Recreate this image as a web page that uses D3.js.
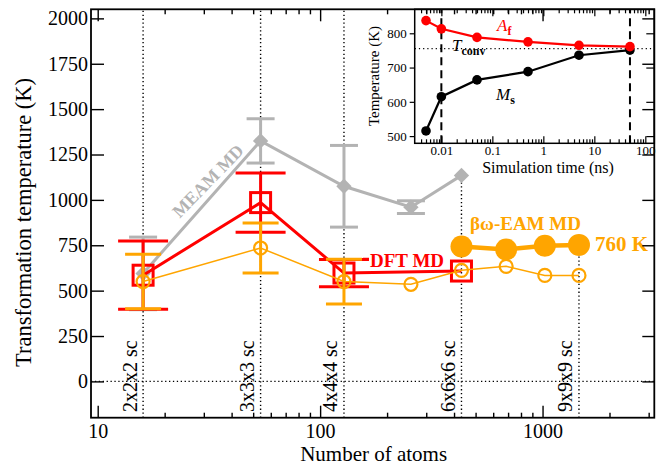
<!DOCTYPE html>
<html>
<head>
<meta charset="utf-8">
<script src="https://cdn.jsdelivr.net/npm/d3@7"></script>
<style>
  body { margin: 0; background: #fff; }
  svg { display: block; }
  svg text { font-family: "Liberation Serif", "Tinos", "DejaVu Serif", serif; }
</style>
</head>
<body>
<script>
// supercell sizes (atoms) and their labels
var cellAtoms = [16, 54, 128, 432, 1458];
var cellLabels = ["2x2x2 sc", "3x3x3 sc", "4x4x4 sc", "6x6x6 sc", "9x9x9 sc"];

// MEAM MD
var meamN = [16, 54, 128, 256, 432];
var meamT = [595, 1325, 1075, 960, 1135];
var meamErr = [200, 122, 225, 35, null];

// DFT MD
var dftN = [16, 54, 128, 432];
var dftT = [585, 985, 597, 608];
var dftErr = [188, 163, 75, null];

// beta-omega EAM MD, open circles
var eamN = [16, 54, 128, 256, 432, 686, 1024, 1458];
var eamT = [550, 735, 550, 535, 612, 634, 584, 584];
var eamErr = [150, 138, 123, null, null, null, null, null];

// beta-omega EAM MD, converged (filled)
var convN = [432, 686, 1024, 1458];
var convT = [743, 727, 747, 752];

var yTicks = [0, 250, 500, 750, 1000, 1250, 1500, 1750, 2000];
var xMajor = [10, 100, 1000];

// inset
var simTime = [0.005, 0.01, 0.05, 0.5, 5, 50];
var afT = [837, 813, 788, 775, 765, 761];
var msT = [515, 615, 664, 688, 736, 751];
var tConv = 755;
var markTimes = [0.01, 50];
var insetYTicks = [500, 600, 700, 800];
var insetXMajor = [0.01, 0.1, 1, 10, 100];

var W = 664, H = 466;
var gray = "#b3b3b3", red = "#ff0000", orange = "#ffa500";

var svg = d3.select("body").append("svg")
  .attr("width", W)
  .attr("height", H);

var x = d3.scaleLog().domain([9.33, 3180]).range([91, 654.3]);
var y = d3.scaleLinear().domain([-200, 2050]).range([417.7, 9.3]);

function minorTicks(scale) {
  var d = scale.domain(), out = [];
  for (var e = Math.floor(Math.log10(d[0])); e <= Math.ceil(Math.log10(d[1])); e++) {
    for (var k = 2; k <= 9; k++) {
      var v = k * Math.pow(10, e);
      if (v > d[0] && v < d[1]) out.push(v);
    }
  }
  return out;
}

// dotted guide lines
var guides = svg.append("g").attr("stroke", "#000").attr("stroke-width", 1.4)
  .attr("stroke-dasharray", "1.3,2.6").attr("fill", "none");
guides.append("line")
  .attr("x1", x.range()[0]).attr("x2", x.range()[1])
  .attr("y1", y(0)).attr("y2", y(0));
guides.selectAll("line.v").data(cellAtoms).enter().append("line")
  .attr("class", "v")
  .attr("x1", function(d) { return x(d); }).attr("x2", function(d) { return x(d); })
  .attr("y1", y.range()[0])
  .attr("y2", function(d, i) { return i == cellAtoms.length - 1 ? y(convT[convT.length - 1]) : y.range()[1]; });

svg.append("g").selectAll("text").data(cellAtoms).enter().append("text")
  .attr("transform", function(d) { return "translate(" + (x(d) - 6.5) + ",412) rotate(-90)"; })
  .attr("font-size", 20)
  .text(function(d, i) { return cellLabels[i]; });

// ---------- inset ----------
var ix = d3.scaleLog().domain([0.003, 150]).range([414.7, 654.3]);
var iy = d3.scaleLinear().domain([479, 870]).range([143.3, 9.3]);

var inset = svg.append("g");
inset.append("rect")
  .attr("x", 362).attr("y", 9.3).attr("width", 654.3 - 362).attr("height", 168)
  .attr("fill", "#fff");

inset.append("line")
  .attr("x1", ix.range()[0]).attr("x2", ix.range()[1])
  .attr("y1", iy(tConv)).attr("y2", iy(tConv))
  .attr("stroke", "#000").attr("stroke-width", 1.2).attr("stroke-dasharray", "1.2,3");

inset.selectAll("line.mark").data(markTimes).enter().append("line")
  .attr("x1", function(d) { return ix(d); }).attr("x2", function(d) { return ix(d); })
  .attr("y1", iy.range()[0]).attr("y2", iy.range()[1])
  .attr("stroke", "#000").attr("stroke-width", 2).attr("stroke-dasharray", "8,5");

var iline = d3.line()
  .x(function(d) { return ix(d[0]); })
  .y(function(d) { return iy(d[1]); });

[[msT, "#000"], [afT, red]].forEach(function(s) {
  var pts = simTime.map(function(t, i) { return [t, s[0][i]]; });
  inset.append("path").datum(pts)
    .attr("d", iline).attr("fill", "none")
    .attr("stroke", s[1]).attr("stroke-width", 2.2);
  inset.selectAll(null).data(pts).enter().append("circle")
    .attr("cx", function(d) { return ix(d[0]); })
    .attr("cy", function(d) { return iy(d[1]); })
    .attr("r", 4.8).attr("fill", s[1]);
});

function insetAxis(axis, tx, ty, labels) {
  var g = inset.append("g").attr("transform", "translate(" + tx + "," + ty + ")").call(axis);
  g.select(".domain").remove();
  g.attr("font-family", null);
  g.selectAll("line").attr("stroke-width", 1.2);
  g.selectAll("text").attr("font-size", 13);
  if (!labels) g.selectAll("text").remove();
  return g;
}
var ixMinor = minorTicks(ix);
insetAxis(d3.axisBottom(ix).tickValues(insetXMajor).tickSize(-7).tickPadding(2)
  .tickFormat(function(d) { return String(d); }), 0, 143.3, true);
insetAxis(d3.axisBottom(ix).tickValues(ixMinor).tickSize(-4), 0, 143.3, false);
insetAxis(d3.axisTop(ix).tickValues(insetXMajor.filter(function(d) { return d < 150; })).tickSize(-7), 0, 9.3, false);
insetAxis(d3.axisTop(ix).tickValues(ixMinor).tickSize(-4), 0, 9.3, false);
insetAxis(d3.axisLeft(iy).tickValues(insetYTicks).tickSize(5).tickPadding(3), 414.7, 0, true);
insetAxis(d3.axisRight(iy).tickValues(insetYTicks).tickSize(-8), 654.3, 0, false);

inset.append("rect")
  .attr("x", 414.7).attr("y", 9.3).attr("width", 654.3 - 414.7).attr("height", 143.3 - 9.3)
  .attr("fill", "none").attr("stroke", "#000").attr("stroke-width", 1.5);

inset.append("text")
  .attr("x", 548).attr("y", 173).attr("text-anchor", "middle").attr("font-size", 16)
  .text("Simulation time (ns)");
inset.append("text")
  .attr("transform", "translate(379,76) rotate(-90)")
  .attr("text-anchor", "middle").attr("font-size", 15)
  .text("Temperature (K)");

function subLabel(px, py, main, sub, color) {
  var t = inset.append("text").attr("x", px).attr("y", py).attr("fill", color).attr("font-size", 17);
  t.append("tspan").attr("font-style", "italic").text(main);
  t.append("tspan").attr("dy", 4).attr("font-size", 12).attr("font-weight", "bold").text(sub);
}
subLabel(497, 30.7, "A", "f", red);
subLabel(452, 50.5, "T", "conv", "#000");
subLabel(496, 100, "M", "s", "#000");

// ---------- main data ----------
var plot = svg.append("g");
var line = d3.line()
  .x(function(d) { return x(d[0]); })
  .y(function(d) { return y(d[1]); });

function errorBars(ns, ts, errs, color, halfW, width) {
  var g = plot.append("g").attr("stroke", color).attr("stroke-width", width);
  ns.forEach(function(n, i) {
    if (errs[i] == null) return;
    var cx = x(n), lo = y(ts[i] - errs[i]), hi = y(ts[i] + errs[i]);
    g.append("line").attr("x1", cx).attr("x2", cx).attr("y1", lo).attr("y2", hi);
    [lo, hi].forEach(function(yy) {
      g.append("line").attr("x1", cx - halfW).attr("x2", cx + halfW).attr("y1", yy).attr("y2", yy);
    });
  });
}
function zip(ns, ts) { return ns.map(function(n, i) { return [n, ts[i]]; }); }

// MEAM
errorBars(meamN, meamT, meamErr, gray, 14, 3);
plot.append("path").datum(zip(meamN, meamT)).attr("d", line)
  .attr("fill", "none").attr("stroke", gray).attr("stroke-width", 3);
plot.selectAll(null).data(zip(meamN, meamT)).enter().append("path")
  .attr("d", d3.symbol(d3.symbolDiamond2, 150))
  .attr("transform", function(d) { return "translate(" + x(d[0]) + "," + y(d[1]) + ")"; })
  .attr("fill", gray);

// DFT
errorBars(dftN, dftT, dftErr, red, 25, 3);
plot.append("path").datum(zip(dftN, dftT)).attr("d", line)
  .attr("fill", "none").attr("stroke", red).attr("stroke-width", 3);
plot.selectAll(null).data(zip(dftN, dftT)).enter().append("rect")
  .attr("x", function(d) { return x(d[0]) - 10; })
  .attr("y", function(d) { return y(d[1]) - 10; })
  .attr("width", 20).attr("height", 20)
  .attr("fill", "none").attr("stroke", red).attr("stroke-width", 3);

// EAM open circles
errorBars(eamN, eamT, eamErr, orange, 18, 3);
plot.append("path").datum(zip(eamN, eamT)).attr("d", line)
  .attr("fill", "none").attr("stroke", orange).attr("stroke-width", 1.5);
plot.selectAll(null).data(zip(eamN, eamT)).enter().append("circle")
  .attr("cx", function(d) { return x(d[0]); })
  .attr("cy", function(d) { return y(d[1]); })
  .attr("r", 6.5).attr("fill", "none").attr("stroke", orange).attr("stroke-width", 2.2);

// EAM converged
plot.append("path").datum(zip(convN, convT)).attr("d", line)
  .attr("fill", "none").attr("stroke", orange).attr("stroke-width", 4.5);
plot.selectAll(null).data(zip(convN, convT)).enter().append("circle")
  .attr("cx", function(d) { return x(d[0]); })
  .attr("cy", function(d) { return y(d[1]); })
  .attr("r", 11).attr("fill", orange);

// series labels
plot.append("text")
  .attr("transform", "translate(208,181) rotate(-45.7)")
  .attr("text-anchor", "middle").attr("dominant-baseline", "central")
  .attr("font-size", 18).attr("font-weight", "bold").attr("fill", gray)
  .text("MEAM MD");
plot.append("line")
  .attr("x1", 363).attr("x2", 369).attr("y1", 259).attr("y2", 259)
  .attr("stroke", red).attr("stroke-width", 2.5);
plot.append("text")
  .attr("x", 370).attr("y", 266.7).attr("font-size", 19).attr("font-weight", "bold")
  .attr("fill", red).text("DFT MD");
plot.append("text")
  .attr("x", 470).attr("y", 230).attr("font-size", 19).attr("font-weight", "bold")
  .attr("fill", orange).text("βω-EAM MD");
plot.append("text")
  .attr("x", 595).attr("y", 251).attr("font-size", 21).attr("font-weight", "bold")
  .attr("fill", orange).text("760 K");

// ---------- main axes ----------
function mainAxis(axis, tx, ty, labels) {
  var g = svg.append("g").attr("transform", "translate(" + tx + "," + ty + ")").call(axis);
  g.select(".domain").remove();
  g.attr("font-family", null);
  g.selectAll("line").attr("stroke-width", 1.4);
  g.selectAll("text").attr("font-size", 20);
  if (!labels) g.selectAll("text").remove();
  return g;
}
var xMinor = minorTicks(x);
var yBot = y.range()[0], yTop = y.range()[1];
var xL = x.range()[0], xR = x.range()[1];
mainAxis(d3.axisBottom(x).tickValues(xMajor).tickSize(-12).tickPadding(6).tickFormat(d3.format("d")), 0, yBot, true);
mainAxis(d3.axisBottom(x).tickValues(xMinor).tickSize(-5), 0, yBot, false);
mainAxis(d3.axisTop(x).tickValues(xMajor).tickSize(-12), 0, yTop, false);
mainAxis(d3.axisTop(x).tickValues(xMinor).tickSize(-5), 0, yTop, false);
mainAxis(d3.axisLeft(y).tickValues(yTicks).tickSize(-13).tickPadding(3).tickFormat(d3.format("d")), xL, 0, true);
mainAxis(d3.axisRight(y).tickValues(yTicks).tickSize(-12), xR, 0, false);

svg.append("rect")
  .attr("x", xL).attr("y", yTop).attr("width", xR - xL).attr("height", yBot - yTop)
  .attr("fill", "none").attr("stroke", "#000").attr("stroke-width", 1.8);

svg.append("text")
  .attr("x", (xL + xR) / 2 + 1).attr("y", 461).attr("text-anchor", "middle")
  .attr("font-size", 21).text("Number of atoms");
svg.append("text")
  .attr("transform", "translate(31," + ((yTop + yBot) / 2 + 9) + ") rotate(-90)")
  .attr("text-anchor", "middle").attr("font-size", 22.5)
  .text("Transformation temperature (K)");
</script>
</body>
</html>
